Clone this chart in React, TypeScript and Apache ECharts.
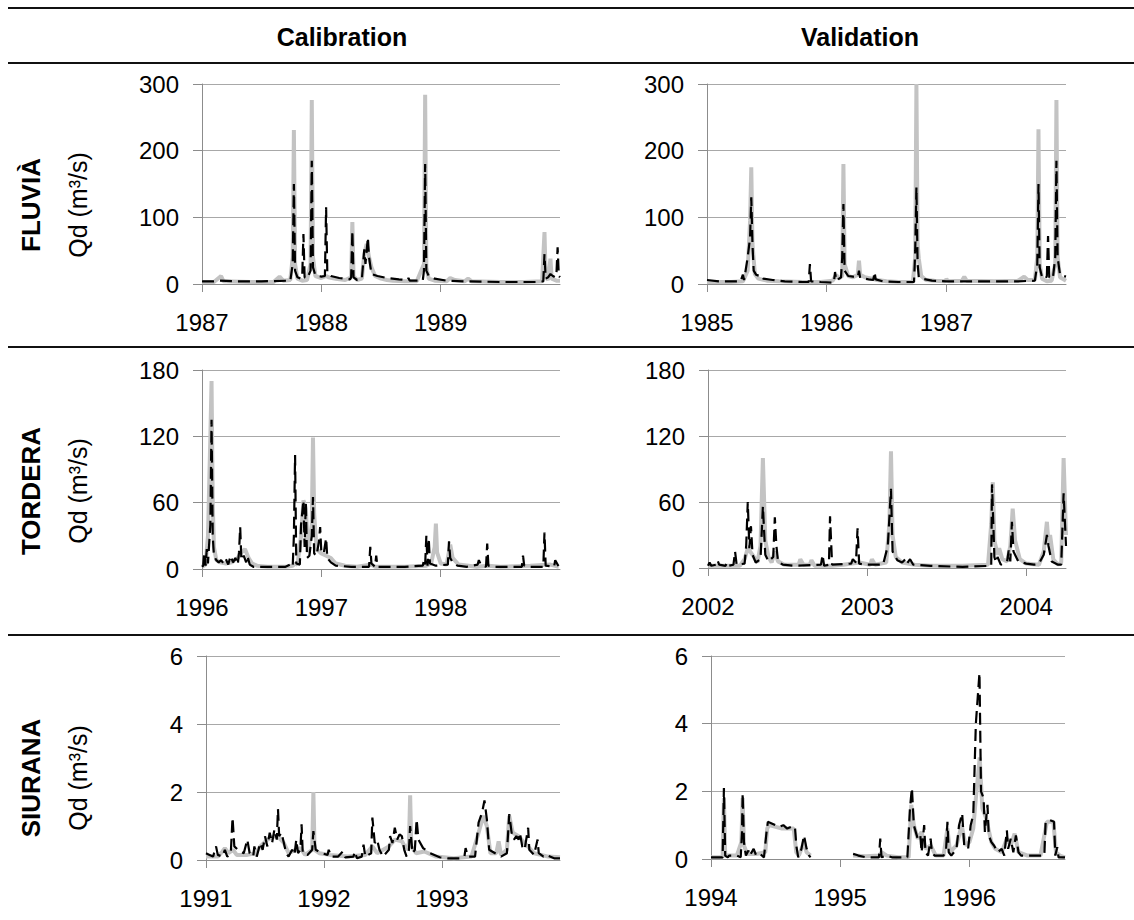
import React, { useEffect, useRef } from "react";
import * as echarts from "echarts";

type Pt = [number, number | null];

const columnTitles = ["Calibration", "Validation"];
const riverNames = ["FLUVIÀ", "TORDERA", "SIURANA"];
const yAxisName = "Qd (m³/s)";

// x ranges (decimal years) and year ticks of each panel
const fluviaCalRange = [1987, 1990];
const fluviaCalTicks = [1987, 1988, 1989];
const fluviaValRange = [1985, 1988];
const fluviaValTicks = [1985, 1986, 1987];
const torderaCalRange = [1996, 1999];
const torderaCalTicks = [1996, 1997, 1998];
const torderaValRange = [2002, 2004.25];
const torderaValTicks = [2002, 2003, 2004];
const siuranaCalRange = [1991, 1994];
const siuranaCalTicks = [1991, 1992, 1993];
const siuranaValRange = [1994, 1996.74];
const siuranaValTicks = [1994, 1995, 1996];

// y scales
const fluviaY = [300, 100];
const torderaY = [180, 60];
const siuranaY = [6, 2];

// ---- FLUVIÀ calibration ----
const fluviaCalObs: Pt[] = [
  [1987.0, 3], [1987.1, 3], [1987.14, 9], [1987.16, 12], [1987.18, 4], [1987.4, 3], [1987.6, 3],
  [1987.65, 11], [1987.68, 5], [1987.74, 6], [1987.76, 40], [1987.77, 231], [1987.78, 30], [1987.8, 8],
  [1987.84, 5], [1987.88, 6], [1987.91, 30], [1987.92, 276], [1987.93, 40], [1987.95, 12], [1988.0, 9],
  [1988.04, 12], [1988.06, 10], [1988.12, 8], [1988.2, 6], [1988.25, 10], [1988.26, 93], [1988.27, 12],
  [1988.3, 6], [1988.34, 8], [1988.36, 45], [1988.38, 60], [1988.4, 40], [1988.42, 25], [1988.45, 12],
  [1988.5, 8], [1988.55, 6], [1988.6, 5], [1988.7, 4], [1988.8, 4], [1988.86, 30], [1988.87, 284],
  [1988.88, 25], [1988.9, 8], [1988.95, 5], [1989.05, 4], [1989.08, 9], [1989.12, 6], [1989.2, 4],
  [1989.23, 8], [1989.26, 4], [1989.5, 3], [1989.7, 3], [1989.85, 4], [1989.87, 78], [1989.88, 10],
  [1989.9, 6], [1989.92, 38], [1989.93, 8], [1989.97, 5], [1990.0, 5],
];
const fluviaCalSim: Pt[] = [
  [1987.0, 4], [1987.1, 4], [1987.15, 5], [1987.3, 4], [1987.5, 4], [1987.74, 5], [1987.76, 30],
  [1987.77, 150], [1987.78, 20], [1987.8, 10], [1987.83, 8], [1987.84, 12], [1987.85, 75], [1987.86, 10],
  [1987.88, 8], [1987.91, 20], [1987.92, 185], [1987.93, 25], [1987.95, 13], [1988.0, 11], [1988.03, 12],
  [1988.04, 115], [1988.05, 18], [1988.08, 12], [1988.15, 9], [1988.24, 7], [1988.25, 10], [1988.26, 80],
  [1988.27, 10], [1988.3, 6], [1988.34, 8], [1988.36, 52], [1988.37, 30], [1988.39, 70], [1988.4, 40],
  [1988.42, 15], [1988.47, 12], [1988.55, 9], [1988.65, 7], [1988.72, 6], [1988.73, 9], [1988.74, 5],
  [1988.85, 5], [1988.86, 20], [1988.87, 180], [1988.88, 20], [1988.9, 12], [1988.95, 8], [1989.05, 5],
  [1989.2, 4], [1989.5, 3], [1989.8, 3], [1989.86, 4], [1989.87, 45], [1989.88, 8], [1989.9, 10],
  [1989.92, 15], [1989.94, 12], [1989.96, 10], [1989.97, 14], [1989.98, 55], [1989.99, 12], [1990.0, 10],
];

// ---- FLUVIÀ validation ----
const fluviaValObs: Pt[] = [
  [1985.0, 3], [1985.2, 3], [1985.3, 4], [1985.34, 20], [1985.36, 95], [1985.37, 175], [1985.38, 60],
  [1985.4, 15], [1985.43, 8], [1985.5, 5], [1985.6, 4], [1985.8, 3], [1985.95, 3], [1986.05, 5],
  [1986.08, 14], [1986.1, 8], [1986.13, 12], [1986.14, 180], [1986.15, 30], [1986.18, 12], [1986.22, 10],
  [1986.26, 14], [1986.27, 35], [1986.28, 14], [1986.32, 10], [1986.38, 8], [1986.42, 6], [1986.5, 4],
  [1986.6, 3], [1986.72, 3], [1986.74, 40], [1986.75, 300], [1986.76, 60], [1986.77, 38], [1986.79, 12],
  [1986.83, 6], [1986.9, 5], [1986.99, 4], [1987.0, 7], [1987.02, 4], [1987.13, 5], [1987.15, 11],
  [1987.17, 5], [1987.4, 4], [1987.6, 5], [1987.65, 11], [1987.68, 6], [1987.74, 6], [1987.76, 40],
  [1987.77, 232], [1987.78, 30], [1987.8, 8], [1987.84, 4], [1987.88, 5], [1987.91, 30], [1987.92, 276],
  [1987.93, 40], [1987.95, 10], [1988.0, 5],
];
const fluviaValSim: Pt[] = [
  [1985.0, 6], [1985.1, 4], [1985.28, 4], [1985.3, 14], [1985.31, 6], [1985.34, 40], [1985.36, 70],
  [1985.37, 130], [1985.38, 60], [1985.39, 20], [1985.41, 14], [1985.44, 12], [1985.45, 13], [1985.47, 8],
  [1985.55, 6], [1985.65, 4], [1985.8, 3], [1985.85, 3], [1985.86, 30], [1985.87, 4], [1985.95, 3],
  [1986.06, 2], [1986.07, 18], [1986.08, 5], [1986.12, 10], [1986.13, 40], [1986.14, 120], [1986.15, 20],
  [1986.18, 12], [1986.22, 11], [1986.26, 10], [1986.27, 20], [1986.28, 9], [1986.35, 7], [1986.39, 6],
  [1986.4, 18], [1986.41, 7], [1986.47, 4], [1986.6, 3], [1986.73, 3], [1986.74, 50], [1986.75, 145],
  [1986.76, 30], [1986.77, 10], [1986.8, 8], [1986.88, 5], [1987.0, 4], [1987.2, 4], [1987.4, 4],
  [1987.6, 4], [1987.74, 5], [1987.76, 30], [1987.77, 150], [1987.78, 25], [1987.8, 10], [1987.83, 8],
  [1987.84, 12], [1987.85, 72], [1987.86, 10], [1987.89, 8], [1987.91, 40], [1987.92, 185], [1987.93, 40],
  [1987.95, 14], [1987.98, 12], [1988.0, 11],
];

// ---- TORDERA calibration ----
const torderaCalObs: Pt[] = [
  [1996.0, 2], [1996.03, 4], [1996.05, 30], [1996.07, 120], [1996.08, 170], [1996.09, 60], [1996.1, 20],
  [1996.12, 8], [1996.15, 6], [1996.2, 5], [1996.25, 6], [1996.3, 10], [1996.33, 15], [1996.36, 18],
  [1996.39, 10], [1996.42, 5], [1996.46, 3], [1996.55, 2], [1996.7, 2], [1996.76, 3], [1996.78, 5],
  [1996.8, 4], [1996.83, 30], [1996.85, 62], [1996.87, 55], [1996.89, 15], [1996.92, 40], [1996.93, 119],
  [1996.94, 50], [1996.96, 18], [1997.0, 14], [1997.04, 12], [1997.08, 10], [1997.12, 5], [1997.2, 3],
  [1997.3, 2], [1997.42, 4], [1997.45, 2], [1997.7, 2], [1997.88, 3], [1997.92, 5], [1997.95, 20],
  [1997.96, 41], [1997.97, 15], [1998.0, 5], [1998.05, 4], [1998.08, 22], [1998.1, 10], [1998.15, 4],
  [1998.3, 2], [1998.4, 3], [1998.5, 2], [1998.75, 3], [1998.92, 4], [1998.99, 2],
];
const torderaCalSim: Pt[] = [
  [1996.0, 2], [1996.01, 3], [1996.02, 15], [1996.03, 3], [1996.04, 18], [1996.05, 5], [1996.07, 40],
  [1996.08, 135], [1996.09, 30], [1996.1, 12], [1996.12, 8], [1996.14, 6], [1996.16, 8], [1996.18, 5],
  [1996.2, 9], [1996.22, 4], [1996.24, 12], [1996.26, 6], [1996.28, 10], [1996.3, 4], [1996.31, 15],
  [1996.32, 38], [1996.33, 8], [1996.35, 12], [1996.37, 6], [1996.38, 12], [1996.4, 4], [1996.43, 2],
  [1996.55, 2], [1996.7, 2], [1996.74, 4], [1996.76, 2], [1996.77, 30], [1996.78, 103], [1996.79, 5],
  [1996.82, 4], [1996.83, 40], [1996.85, 62], [1996.86, 20], [1996.87, 60], [1996.88, 10], [1996.9, 12],
  [1996.92, 30], [1996.93, 65], [1996.94, 14], [1996.96, 12], [1996.98, 25], [1996.99, 38], [1997.0, 15],
  [1997.02, 14], [1997.04, 28], [1997.05, 10], [1997.08, 6], [1997.12, 3], [1997.25, 2], [1997.4, 2],
  [1997.41, 20], [1997.42, 5], [1997.45, 2], [1997.46, 12], [1997.47, 2], [1997.7, 2], [1997.85, 3],
  [1997.86, 8], [1997.87, 4], [1997.88, 30], [1997.89, 3], [1997.9, 28], [1997.91, 5], [1997.96, 3],
  [1998.06, 4], [1998.07, 25], [1998.08, 10], [1998.1, 6], [1998.14, 3], [1998.22, 2], [1998.31, 4],
  [1998.32, 8], [1998.34, 3], [1998.38, 2], [1998.39, 23], [1998.4, 3], [1998.45, 2], [1998.68, 2],
  [1998.69, 12], [1998.7, 3], [1998.75, 2], [1998.86, 2], [1998.87, 33], [1998.88, 3], [1998.95, 2],
  [1998.96, 8], [1998.99, 2],
];

// ---- TORDERA validation ----
const torderaValObs: Pt[] = [
  [2002.0, 2], [2002.2, 2], [2002.23, 8], [2002.25, 18], [2002.28, 12], [2002.31, 5], [2002.33, 20],
  [2002.345, 100], [2002.36, 25], [2002.38, 10], [2002.4, 5], [2002.42, 15], [2002.44, 6], [2002.48, 3],
  [2002.57, 3], [2002.58, 8], [2002.6, 3], [2002.64, 3], [2002.65, 7], [2002.67, 2], [2002.78, 2],
  [2002.85, 3], [2002.95, 5], [2003.02, 3], [2003.03, 8], [2003.05, 3], [2003.12, 5], [2003.14, 40],
  [2003.15, 106], [2003.16, 30], [2003.18, 10], [2003.22, 5], [2003.3, 3], [2003.4, 2], [2003.6, 2],
  [2003.76, 3], [2003.78, 40], [2003.79, 78], [2003.8, 25], [2003.82, 12], [2003.83, 18], [2003.85, 8],
  [2003.88, 6], [2003.9, 20], [2003.915, 54], [2003.93, 25], [2003.96, 8], [2004.0, 4], [2004.08, 3],
  [2004.11, 15], [2004.13, 42], [2004.14, 22], [2004.15, 30], [2004.17, 8], [2004.2, 3], [2004.22, 5],
  [2004.235, 100], [2004.25, 30],
];
const torderaValSim: Pt[] = [
  [2002.0, 2], [2002.01, 5], [2002.02, 2], [2002.05, 3], [2002.06, 7], [2002.07, 3], [2002.11, 2],
  [2002.12, 5], [2002.13, 2], [2002.16, 3], [2002.17, 15], [2002.18, 3], [2002.23, 4], [2002.24, 20],
  [2002.25, 60], [2002.26, 18], [2002.27, 38], [2002.28, 12], [2002.3, 5], [2002.33, 8], [2002.345, 56],
  [2002.36, 12], [2002.38, 6], [2002.41, 10], [2002.42, 46], [2002.43, 20], [2002.44, 6], [2002.47, 3],
  [2002.55, 2], [2002.71, 3], [2002.72, 12], [2002.73, 2], [2002.76, 3], [2002.767, 47], [2002.78, 3],
  [2002.9, 4], [2002.91, 8], [2002.93, 5], [2002.94, 36], [2002.95, 4], [2002.99, 3], [2003.1, 3],
  [2003.13, 20], [2003.15, 72], [2003.16, 15], [2003.19, 7], [2003.22, 5], [2003.24, 8], [2003.25, 4],
  [2003.27, 8], [2003.29, 3], [2003.4, 2], [2003.6, 1], [2003.78, 2], [2003.785, 76], [2003.8, 10],
  [2003.81, 5], [2003.82, 10], [2003.84, 3], [2003.88, 6], [2003.89, 16], [2003.9, 6], [2003.91, 42],
  [2003.92, 15], [2003.95, 6], [2004.0, 4], [2004.05, 3], [2004.08, 4], [2004.11, 12], [2004.13, 30],
  [2004.14, 20], [2004.16, 6], [2004.2, 3], [2004.22, 3], [2004.235, 68], [2004.25, 20],
];

// ---- SIURANA calibration ----
const siuranaCalObs: Pt[] = [
  [1991.0, 0.1], [1991.1, 0.1], [1991.14, 0.25], [1991.16, 0.35], [1991.19, 0.2], [1991.23, 0.3],
  [1991.26, 0.15], [1991.35, 0.15], [1991.42, 0.2], [1991.46, 0.4], [1991.52, 0.6], [1991.58, 0.7],
  [1991.62, 0.65], [1991.66, 0.5], [1991.7, 0.2], [1991.76, 0.3], [1991.8, 0.35], [1991.84, 0.15],
  [1991.9, 0.3], [1991.91, 2.0], [1991.92, 0.3], [1991.96, 0.2], [1992.05, 0.15], [1992.2, 0.1],
  [1992.35, 0.15], [1992.41, 0.4], [1992.45, 0.2], [1992.55, 0.4], [1992.6, 0.6], [1992.66, 0.55],
  [1992.7, 0.3], [1992.72, 0.5], [1992.73, 1.9], [1992.74, 0.4], [1992.78, 0.2], [1992.85, 0.25],
  [1992.95, 0.1], [1993.1, 0.05], [1993.25, 0.1], [1993.31, 0.8], [1993.35, 1.3], [1993.38, 1.0],
  [1993.41, 0.2], [1993.46, 0.2], [1993.48, 0.55], [1993.5, 0.15], [1993.55, 0.3], [1993.57, 1.3],
  [1993.6, 0.8], [1993.65, 0.7], [1993.7, 0.5], [1993.78, 0.2], [1993.9, 0.1], [1994.0, 0.08],
];
const siuranaCalSim: Pt[] = [
  [1991.0, 0.2], [1991.03, 0.15], [1991.06, 0.1], [1991.085, 0.4], [1991.1, 0.15], [1991.14, 0.1],
  [1991.16, 0.3], [1991.18, 0.1], [1991.21, 0.2], [1991.225, 1.25], [1991.24, 0.4], [1991.27, 0.3],
  [1991.32, 0.2], [1991.35, 0.6], [1991.37, 0.2], [1991.4, 0.1], [1991.41, 0.4], [1991.43, 0.1],
  [1991.46, 0.5], [1991.48, 0.3], [1991.5, 0.7], [1991.52, 0.4], [1991.54, 0.8], [1991.56, 0.5],
  [1991.58, 0.9], [1991.6, 0.6], [1991.61, 1.5], [1991.62, 0.7], [1991.64, 0.8], [1991.66, 0.5],
  [1991.68, 0.2], [1991.7, 0.1], [1991.73, 0.3], [1991.75, 0.15], [1991.765, 0.6], [1991.78, 0.2],
  [1991.8, 0.3], [1991.81, 1.05], [1991.82, 0.2], [1991.86, 0.15], [1991.9, 0.3], [1991.91, 0.85],
  [1991.93, 0.3], [1991.98, 0.2], [1992.03, 0.15], [1992.04, 0.3], [1992.06, 0.1], [1992.12, 0.1],
  [1992.16, 0.25], [1992.18, 0.08], [1992.25, 0.1], [1992.26, 0.25], [1992.28, 0.05], [1992.32, 0.1],
  [1992.335, 0.45], [1992.35, 0.1], [1992.4, 0.2], [1992.41, 1.25], [1992.43, 0.5], [1992.45, 0.6],
  [1992.47, 0.3], [1992.5, 0.1], [1992.55, 0.3], [1992.56, 0.7], [1992.58, 0.5], [1992.6, 0.95],
  [1992.62, 0.6], [1992.64, 0.75], [1992.66, 0.7], [1992.68, 0.3], [1992.7, 0.1], [1992.72, 0.3],
  [1992.73, 1.0], [1992.75, 0.2], [1992.77, 0.3], [1992.785, 1.2], [1992.8, 0.6], [1992.84, 0.35],
  [1992.9, 0.2], [1992.98, 0.08], [1993.05, 0.05], [1993.15, 0.05], [1993.19, 0.1], [1993.2, 0.35],
  [1993.22, 0.1], [1993.28, 0.1], [1993.31, 1.1], [1993.34, 1.4], [1993.36, 1.75], [1993.38, 1.2],
  [1993.4, 0.3], [1993.45, 0.2], [1993.5, 0.1], [1993.55, 0.2], [1993.57, 1.35], [1993.59, 0.8],
  [1993.61, 0.6], [1993.63, 0.7], [1993.65, 0.6], [1993.66, 0.8], [1993.68, 0.4], [1993.7, 0.3],
  [1993.73, 0.95], [1993.74, 0.3], [1993.78, 0.15], [1993.81, 0.6], [1993.82, 0.2], [1993.86, 0.1],
  [1993.88, 0.15], [1993.95, 0.05], [1994.0, 0.05],
];

// ---- SIURANA validation (gap = missing record) ----
const siuranaValObs: Pt[] = [
  [1994.0, 0.05], [1994.09, 0.05], [1994.1, 1.8], [1994.11, 0.1], [1994.13, 0.1], [1994.2, 0.1],
  [1994.235, 0.5], [1994.245, 1.8], [1994.255, 0.4], [1994.28, 0.15], [1994.35, 0.15], [1994.42, 0.2],
  [1994.435, 0.9], [1994.45, 1.0], [1994.5, 0.95], [1994.55, 0.9], [1994.6, 0.9], [1994.64, 0.9],
  [1994.66, 0.2], [1994.68, 0.1], [1994.72, 0.5], [1994.74, 0.2], [1994.77, 0.1], [1994.78, null],
  [1995.09, null], [1995.1, 0.1], [1995.2, 0.08], [1995.3, 0.1], [1995.32, 0.2], [1995.36, 0.1],
  [1995.45, 0.05], [1995.53, 0.05], [1995.55, 1.6], [1995.57, 1.0], [1995.6, 0.6], [1995.63, 0.8],
  [1995.66, 0.3], [1995.7, 0.4], [1995.74, 0.1], [1995.8, 0.1], [1995.83, 0.9], [1995.85, 0.2],
  [1995.9, 0.4], [1995.94, 1.0], [1995.97, 0.4], [1996.0, 0.5], [1996.03, 0.9], [1996.05, 1.8],
  [1996.08, 3.0], [1996.1, 1.5], [1996.13, 1.2], [1996.17, 0.5], [1996.2, 0.3], [1996.25, 0.2],
  [1996.29, 0.6], [1996.32, 0.4], [1996.35, 0.75], [1996.38, 0.2], [1996.45, 0.1], [1996.55, 0.1],
  [1996.59, 0.9], [1996.6, 1.1], [1996.65, 1.1], [1996.67, 0.2], [1996.7, 0.1], [1996.74, 0.05],
];
const siuranaValSim: Pt[] = [
  [1994.0, 0.05], [1994.09, 0.05], [1994.1, 2.1], [1994.11, 0.1], [1994.13, 0.05], [1994.14, 0.1],
  [1994.2, 0.1], [1994.23, 0.05], [1994.24, 0.8], [1994.245, 1.95], [1994.255, 0.5], [1994.27, 0.1],
  [1994.29, 0.25], [1994.3, 0.1], [1994.33, 0.3], [1994.35, 0.1], [1994.38, 0.15], [1994.41, 0.05],
  [1994.43, 0.8], [1994.44, 1.1], [1994.47, 1.05], [1994.5, 1.0], [1994.53, 0.95], [1994.56, 1.0],
  [1994.59, 0.9], [1994.62, 0.95], [1994.65, 0.95], [1994.66, 0.4], [1994.675, 0.05], [1994.7, 0.3],
  [1994.72, 0.7], [1994.74, 0.3], [1994.76, 0.1], [1994.77, 0.05], [1994.78, null], [1995.09, null],
  [1995.1, 0.15], [1995.13, 0.12], [1995.14, 0.1], [1995.2, 0.05], [1995.25, 0.05], [1995.3, 0.05],
  [1995.31, 0.6], [1995.32, 0.05], [1995.36, 0.1], [1995.4, 0.05], [1995.52, 0.05], [1995.54, 1.5],
  [1995.555, 2.1], [1995.57, 1.0], [1995.6, 0.6], [1995.62, 0.7], [1995.63, 0.2], [1995.65, 1.0],
  [1995.66, 0.2], [1995.68, 0.1], [1995.7, 0.6], [1995.71, 0.2], [1995.73, 0.1], [1995.8, 0.1],
  [1995.82, 0.3], [1995.83, 1.1], [1995.84, 0.2], [1995.86, 0.1], [1995.9, 0.3], [1995.92, 1.0],
  [1995.944, 1.35], [1995.96, 0.4], [1995.99, 0.3], [1996.01, 1.0], [1996.03, 1.3], [1996.05, 4.0],
  [1996.078, 5.5], [1996.09, 2.0], [1996.11, 1.8], [1996.12, 0.8], [1996.14, 1.6], [1996.15, 0.7],
  [1996.17, 0.5], [1996.19, 0.4], [1996.22, 0.2], [1996.25, 0.3], [1996.27, 0.1], [1996.29, 0.85],
  [1996.3, 0.3], [1996.32, 0.6], [1996.34, 0.2], [1996.36, 0.7], [1996.38, 0.2], [1996.4, 0.1],
  [1996.5, 0.1], [1996.58, 0.1], [1996.59, 1.1], [1996.62, 1.15], [1996.655, 1.1], [1996.665, 0.1],
  [1996.68, 0.35], [1996.69, 0.05], [1996.74, 0.05],
];

const panels = [
  { range: fluviaCalRange, ticks: fluviaCalTicks, y: fluviaY, obs: fluviaCalObs, sim: fluviaCalSim },
  { range: fluviaValRange, ticks: fluviaValTicks, y: fluviaY, obs: fluviaValObs, sim: fluviaValSim },
  { range: torderaCalRange, ticks: torderaCalTicks, y: torderaY, obs: torderaCalObs, sim: torderaCalSim },
  { range: torderaValRange, ticks: torderaValTicks, y: torderaY, obs: torderaValObs, sim: torderaValSim },
  { range: siuranaCalRange, ticks: siuranaCalTicks, y: siuranaY, obs: siuranaCalObs, sim: siuranaCalSim },
  { range: siuranaValRange, ticks: siuranaValTicks, y: siuranaY, obs: siuranaValObs, sim: siuranaValSim },
];

// layout (pixels)
const gridBoxes = [
  { left: 202, top: 84, width: 358, height: 200 },
  { left: 707, top: 84, width: 359, height: 200 },
  { left: 202, top: 370, width: 358, height: 199 },
  { left: 708, top: 370, width: 358, height: 198 },
  { left: 206, top: 656, width: 354, height: 204 },
  { left: 711, top: 656, width: 354, height: 203 },
];

const FONT = "'Liberation Sans', Arial, Helvetica, sans-serif";

export default function App() {
  const ref = useRef<HTMLDivElement>(null);
  useEffect(() => {
    document.body.style.margin = "0";
    if (!ref.current) return;
    const chart = echarts.init(ref.current, undefined, { renderer: "svg" });

    const grid = gridBoxes.map((g) => ({ ...g, containLabel: false }));
    const xAxis = panels.map((p, i) => ({
      type: "value",
      gridIndex: i,
      min: p.range[0],
      max: p.range[1],
      axisLine: { show: true, onZero: false, lineStyle: { color: "#8c8c8c", width: 1 } },
      axisTick: { show: true, length: 8, customValues: p.ticks, lineStyle: { color: "#8c8c8c" } },
      axisLabel: {
        customValues: p.ticks,
        margin: 26,
        fontSize: 24,
        color: "#000",
        fontFamily: FONT,
        formatter: (v: number) => String(Math.round(v)),
      },
      splitLine: { show: false },
    }));
    const yAxis = panels.map((p, i) => ({
      type: "value",
      gridIndex: i,
      min: 0,
      max: p.y[0],
      interval: p.y[1],
      axisLine: { show: true, lineStyle: { color: "#8c8c8c", width: 1 } },
      axisTick: { show: true, length: 9, lineStyle: { color: "#8c8c8c" } },
      axisLabel: { margin: 23, fontSize: 24, color: "#000", fontFamily: FONT },
      splitLine: { show: true, lineStyle: { color: "#a8a8a8", width: 1 } },
    }));
    const series: any[] = [];
    panels.forEach((p, i) => {
      series.push({
        type: "line",
        name: "observed",
        xAxisIndex: i,
        yAxisIndex: i,
        data: p.obs,
        showSymbol: false,
        symbol: "none",
        silent: true,
        lineStyle: { color: "#c3c3c3", width: 4 },
      });
      series.push({
        type: "line",
        name: "simulated",
        xAxisIndex: i,
        yAxisIndex: i,
        data: p.sim,
        showSymbol: false,
        symbol: "none",
        silent: true,
        lineStyle: { color: "#000", width: 2.2, type: [12, 6] },
      });
    });

    const hLine = (y: number) => ({
      type: "line",
      shape: { x1: 8, y1: y, x2: 1134, y2: y },
      style: { stroke: "#111", lineWidth: 2 },
    });
    const rowCenters = [205, 491, 778];
    const graphic: any[] = [
      hLine(8),
      hLine(63),
      hLine(347),
      hLine(635),
      {
        type: "text",
        x: 342,
        y: 37,
        style: { text: columnTitles[0], font: `bold 25px ${FONT}`, fill: "#000", align: "center", verticalAlign: "middle" },
      },
      {
        type: "text",
        x: 860,
        y: 37,
        style: { text: columnTitles[1], font: `bold 25px ${FONT}`, fill: "#000", align: "center", verticalAlign: "middle" },
      },
    ];
    riverNames.forEach((name, r) => {
      graphic.push({
        type: "text",
        x: 31,
        y: rowCenters[r],
        rotation: Math.PI / 2,
        style: { text: name, font: `bold 26px ${FONT}`, fill: "#000", align: "center", verticalAlign: "middle" },
      });
      graphic.push({
        type: "text",
        x: 78,
        y: rowCenters[r],
        rotation: Math.PI / 2,
        style: { text: yAxisName, font: `25px ${FONT}`, fill: "#000", align: "center", verticalAlign: "middle" },
      });
    });

    chart.setOption({
      animation: false,
      backgroundColor: "#fff",
      grid,
      xAxis,
      yAxis,
      series,
      graphic,
    });
    return () => chart.dispose();
  }, []);
  return <div ref={ref} style={{ width: 1134, height: 920 }} />;
}
